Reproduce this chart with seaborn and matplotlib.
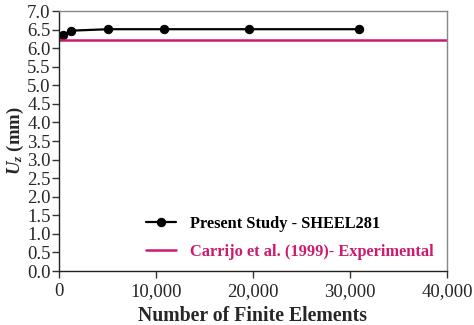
import matplotlib
matplotlib.use("Agg")
import matplotlib.pyplot as plt
import seaborn as sns
import pandas as pd

# Data
elements = [450, 1200, 5100, 10800, 19600, 30900]
uz = [6.35, 6.47, 6.51, 6.51, 6.51, 6.51]
experimental = 6.22
x_ticks = [0, 10000, 20000, 30000, 40000]
x_tick_labels = ["0", "10,000", "20,000", "30,000", "40,000"]
y_ticks = [0.0, 0.5, 1.0, 1.5, 2.0, 2.5, 3.0, 3.5, 4.0, 4.5, 5.0, 5.5, 6.0, 6.5, 7.0]
series_names = ["Present Study - SHEEL281", "Carrijo et al. (1999)- Experimental"]

sns.set_style("white")
plt.rcParams['font.family'] = ['Liberation Serif', 'DejaVu Serif']
plt.rcParams['mathtext.fontset'] = 'custom'
plt.rcParams['mathtext.it'] = 'Liberation Serif:italic:bold'
plt.rcParams['mathtext.rm'] = 'Liberation Serif:bold'

magenta = '#cc1a6e'

fig = plt.figure(figsize=(4.74, 3.25), dpi=100)
ax = fig.add_axes([59/474, 1-271/325, (447-59)/474, (271-11)/325])

df = pd.DataFrame({"Elements": elements, "Uz": uz})
sns.lineplot(data=df, x="Elements", y="Uz", ax=ax, color='black', marker='o',
             markersize=6, linewidth=1.6, markeredgecolor='black',
             label=series_names[0])
ax.axhline(experimental, color=magenta, linewidth=1.8, label=series_names[1])

ax.set_xlim(0, 40000)
ax.set_ylim(0, 7.0)
ax.set_xticks(x_ticks)
ax.set_xticklabels(x_tick_labels)
ax.set_yticks(y_ticks)
ax.set_yticklabels([f"{v:.1f}" for v in y_ticks])
ax.tick_params(axis='both', labelsize=13.5, direction='out', length=5, width=1,
               color='#333333', left=True, bottom=True, pad=1)
ax.tick_params(axis='x', pad=4)

for s in ['left', 'bottom']:
    ax.spines[s].set_color('#222222')
    ax.spines[s].set_linewidth(1.0)
for s in ['top', 'right']:
    ax.spines[s].set_color('#888888')
    ax.spines[s].set_linewidth(1.0)

ax.set_xlabel("Number of Finite Elements", fontsize=14.2, fontweight='bold', labelpad=4)
ax.set_ylabel(r"$U_z$ (mm)", fontsize=13.5, fontweight='bold', labelpad=1)

leg = ax.legend(loc='center left', bbox_to_anchor=(146/474, 1-238/325),
                bbox_transform=fig.transFigure, frameon=False,
                prop={'family': 'Liberation Serif', 'weight': 'bold', 'size': 11.8},
                handlelength=1.8, handletextpad=0.9, labelspacing=0.75,
                borderpad=0, borderaxespad=0)
for txt, col in zip(leg.get_texts(), ['black', magenta]):
    txt.set_color(col)

fig.savefig("out.png", dpi=100)
